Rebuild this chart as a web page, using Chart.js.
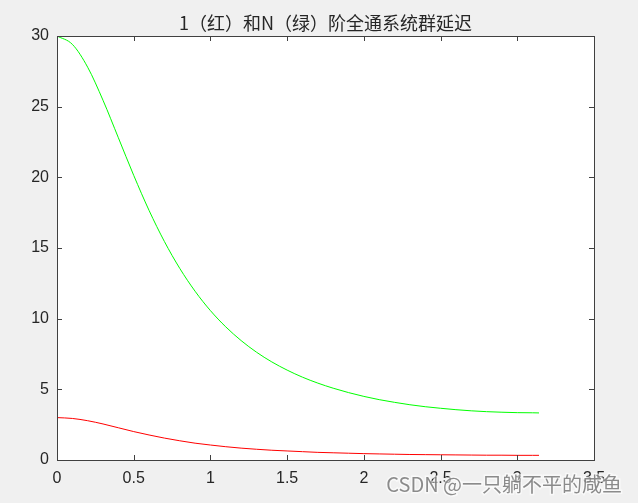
<!DOCTYPE html>
<html>
<head>
<meta charset="utf-8">
<script src="https://cdn.jsdelivr.net/npm/chart.js@4.4.0/dist/chart.umd.min.js"></script>
<style>
html, body { margin: 0; padding: 0; background: #f0f0f0; }
canvas { display: block; }
</style>
</head>
<body>
<canvas id="graficoAtraso" width="638" height="503"></canvas>
<script>
// frequencia (rad) e atraso de grupo
var omega = [0, 0.1, 0.2, 0.3, 0.4, 0.5, 0.6, 0.7, 0.8, 0.9, 1.0, 1.1, 1.2, 1.3, 1.4, 1.5, 1.6,
             1.7, 1.8, 1.9, 2.0, 2.1, 2.2, 2.3, 2.4, 2.5, 2.6, 2.7, 2.8, 2.9, 3.0, 3.1, 3.1416];
var atraso1 = [3.00, 2.94, 2.78, 2.55, 2.28, 2.01, 1.77, 1.55, 1.36, 1.19, 1.06, 0.94, 0.84, 0.76, 0.69, 0.64, 0.59,
               0.54, 0.51, 0.48, 0.45, 0.43, 0.41, 0.39, 0.38, 0.37, 0.36, 0.35, 0.34, 0.34, 0.33, 0.33, 0.33];
var atrasoN = [30.0, 29.41, 27.79, 25.45, 22.80, 20.14, 17.66, 15.46, 13.56, 11.94, 10.57, 9.42, 8.45, 7.63, 6.94, 6.36, 5.86,
               5.44, 5.08, 4.77, 4.50, 4.27, 4.08, 3.91, 3.77, 3.66, 3.56, 3.48, 3.42, 3.38, 3.35, 3.34, 3.33];
var xTicks = [0, 0.5, 1, 1.5, 2, 2.5, 3, 3.5];
var yTicks = [0, 5, 10, 15, 20, 25, 30];
var titulo = '1（红）和N（绿）阶全通系统群延迟';
var marcaDagua = 'CSDN @一只躺不平的咸鱼';

function pontos(ys) {
    return omega.map(function (x, i) { return { x: x, y: ys[i] }; });
}

var eixoCor = '#404040';
var textoCor = '#262626';

var moldura = {
    id: 'moldura',
    beforeDraw: function (chart) {
        var ctx = chart.ctx, a = chart.chartArea;
        ctx.save();
        ctx.fillStyle = '#f0f0f0';
        ctx.fillRect(0, 0, chart.width, chart.height);
        ctx.fillStyle = '#ffffff';
        ctx.fillRect(a.left, a.top, a.right - a.left, a.bottom - a.top);
        ctx.restore();
    },
    afterDatasetsDraw: function (chart) {
        var ctx = chart.ctx, a = chart.chartArea;
        var sx = chart.scales.x, sy = chart.scales.y;
        var tl = 5;
        ctx.save();
        ctx.strokeStyle = eixoCor;
        ctx.lineWidth = 1;
        ctx.beginPath();
        xTicks.forEach(function (v) {
            var px = Math.round(sx.getPixelForValue(v)) + 0.5;
            ctx.moveTo(px, a.bottom); ctx.lineTo(px, a.bottom - tl);
            ctx.moveTo(px, a.top); ctx.lineTo(px, a.top + tl);
        });
        yTicks.forEach(function (v) {
            var py = Math.round(sy.getPixelForValue(v)) + 0.5;
            ctx.moveTo(a.left, py); ctx.lineTo(a.left + tl, py);
            ctx.moveTo(a.right, py); ctx.lineTo(a.right - tl, py);
        });
        ctx.stroke();
        ctx.strokeRect(Math.round(a.left) + 0.5, Math.round(a.top) + 0.5,
                       Math.round(a.right - a.left), Math.round(a.bottom - a.top));

        ctx.fillStyle = textoCor;
        ctx.font = '18px "Noto Sans CJK SC", "Liberation Sans", sans-serif';
        ctx.textAlign = 'center';
        ctx.textBaseline = 'alphabetic';
        ctx.fillText(titulo, (a.left + a.right) / 2, 30);
        ctx.restore();
    },
    afterDraw: function (chart) {
        var ctx = chart.ctx;
        ctx.save();
        ctx.font = '20px "Noto Sans CJK SC", "Liberation Sans", sans-serif';
        ctx.textAlign = 'right';
        ctx.textBaseline = 'alphabetic';
        ctx.lineWidth = 3;
        ctx.strokeStyle = 'rgba(255,255,255,0.6)';
        ctx.strokeText(marcaDagua, 622, 492);
        ctx.fillStyle = 'rgba(120,120,120,0.85)';
        ctx.fillText(marcaDagua, 622, 492);
        ctx.restore();
    }
};

function rotulo(v) { return String(v); }

var config = {
    type: 'line',
    data: {
        datasets: [
            {
                label: 'N',
                data: pontos(atrasoN),
                borderColor: '#00ff00',
                borderWidth: 1,
                pointRadius: 0,
                fill: false,
                cubicInterpolationMode: 'monotone'
            },
            {
                label: '1',
                data: pontos(atraso1),
                borderColor: '#ff0000',
                borderWidth: 1,
                pointRadius: 0,
                fill: false,
                cubicInterpolationMode: 'monotone'
            }
        ]
    },
    options: {
        responsive: false,
        animation: false,
        devicePixelRatio: 1,
        layout: { padding: { top: 36, right: 44, left: 0, bottom: 0 } },
        plugins: {
            legend: { display: false },
            tooltip: { enabled: false },
            title: { display: false }
        },
        scales: {
            x: {
                type: 'linear',
                min: 0,
                max: 3.5,
                afterBuildTicks: function (s) { s.ticks = xTicks.map(function (v) { return { value: v }; }); },
                afterFit: function (s) { s.height = 43; },
                grid: { display: false, drawTicks: false },
                border: { display: false },
                ticks: {
                    color: textoCor,
                    padding: 9,
                    maxRotation: 0,
                    autoSkip: false,
                    callback: rotulo,
                    font: { family: '"Liberation Sans", Arial, sans-serif', size: 16 }
                }
            },
            y: {
                type: 'linear',
                min: 0,
                max: 30,
                afterBuildTicks: function (s) { s.ticks = yTicks.map(function (v) { return { value: v }; }); },
                afterFit: function (s) { s.width = 57; },
                grid: { display: false, drawTicks: false },
                border: { display: false },
                ticks: {
                    color: textoCor,
                    padding: 8,
                    autoSkip: false,
                    callback: rotulo,
                    font: { family: '"Liberation Sans", Arial, sans-serif', size: 16 }
                }
            }
        }
    },
    plugins: [moldura]
};

var grafico = new Chart(document.getElementById('graficoAtraso'), config);
</script>
</body>
</html>
